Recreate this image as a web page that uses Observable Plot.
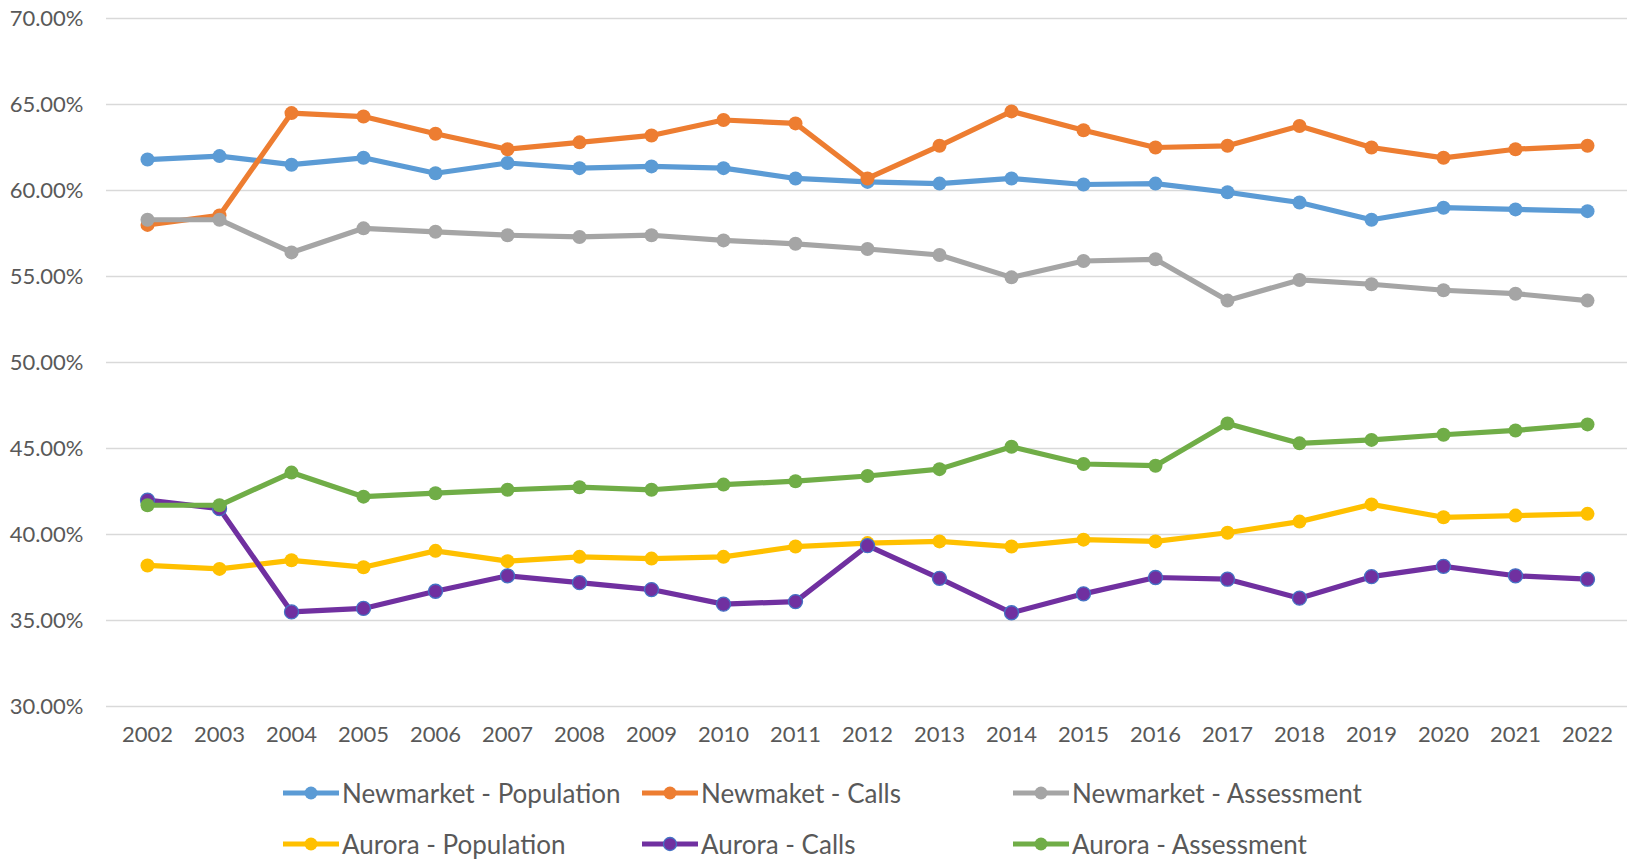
<!DOCTYPE html>
<html>
<head>
<meta charset="utf-8">
<script src="https://cdn.jsdelivr.net/npm/d3@7"></script>
<script src="https://cdn.jsdelivr.net/npm/@observablehq/plot@0.6"></script>
<style>
  html, body { margin: 0; padding: 0; background: #fff; overflow: hidden; }
  #wrap { width: 1629px; height: 859px; font-family: Lato, "Open Sans", sans-serif; color: #595959; }
  #legend { display: grid; grid-template-columns: 359px 371px auto; grid-auto-rows: 51px;
            padding-left: 283px; margin-top: 7px; font-size: 26px; }
  .item { display: flex; align-items: center; white-space: nowrap; }
  .item svg { margin-right: 3px; flex: none; }
</style>
</head>
<body>
<div id="wrap"><div id="chart"></div><div id="legend"></div></div>
<script>
const years = ["2002","2003","2004","2005","2006","2007","2008","2009","2010","2011","2012","2013","2014","2015","2016","2017","2018","2019","2020","2021","2022"];
const yTicks = [30, 35, 40, 45, 50, 55, 60, 65, 70];

const seriesNames = ["Newmarket - Population", "Newmaket - Calls", "Newmarket - Assessment",
                     "Aurora - Population", "Aurora - Calls", "Aurora - Assessment"];
const seriesColors = ["#5B9BD5", "#ED7D31", "#A5A5A5", "#FFC000", "#7030A0", "#70AD47"];
const markerStrokes = ["none", "none", "none", "none", "#4472C4", "none"];

const newmarketPopulation = [61.8, 62.0, 61.5, 61.9, 61.0, 61.6, 61.3, 61.4, 61.3, 60.7, 60.5, 60.4, 60.7, 60.35, 60.4, 59.9, 59.3, 58.3, 59.0, 58.9, 58.8];
const newmarketCalls      = [58.0, 58.55, 64.5, 64.3, 63.3, 62.4, 62.8, 63.2, 64.1, 63.9, 60.7, 62.6, 64.6, 63.5, 62.5, 62.6, 63.75, 62.5, 61.9, 62.4, 62.6];
const newmarketAssessment = [58.3, 58.3, 56.4, 57.8, 57.6, 57.4, 57.3, 57.4, 57.1, 56.9, 56.6, 56.25, 54.95, 55.9, 56.0, 53.6, 54.8, 54.55, 54.2, 54.0, 53.6];
const auroraPopulation    = [38.2, 38.0, 38.5, 38.1, 39.05, 38.45, 38.7, 38.6, 38.7, 39.3, 39.5, 39.6, 39.3, 39.7, 39.6, 40.1, 40.75, 41.75, 41.0, 41.1, 41.2];
const auroraCalls         = [42.0, 41.5, 35.5, 35.7, 36.7, 37.6, 37.2, 36.8, 35.95, 36.1, 39.35, 37.45, 35.45, 36.55, 37.5, 37.4, 36.3, 37.55, 38.15, 37.6, 37.4];
const auroraAssessment    = [41.7, 41.7, 43.6, 42.2, 42.4, 42.6, 42.75, 42.6, 42.9, 43.1, 43.4, 43.8, 45.1, 44.1, 44.0, 46.45, 45.3, 45.5, 45.8, 46.05, 46.4];

const seriesValues = [newmarketPopulation, newmarketCalls, newmarketAssessment, auroraPopulation, auroraCalls, auroraAssessment];

const data = seriesNames.flatMap((name, i) =>
  years.map((year, j) => ({series: name, year, value: seriesValues[i][j]})));

const marks = [
  Plot.ruleY(yTicks, {stroke: "#d9d9d9", strokeWidth: 1.5}),
  Plot.axisY({ticks: yTicks, tickSize: 0, tickPadding: 23, label: null,
              tickFormat: d => d.toFixed(2) + "%", fontSize: 22}),
  Plot.axisX({tickSize: 0, tickPadding: 20, label: null, fontSize: 22})
];
seriesNames.forEach((name, i) => {
  const rows = data.filter(d => d.series === name);
  marks.push(Plot.line(rows, {x: "year", y: "value", stroke: seriesColors[i], strokeWidth: 5.2}));
  marks.push(Plot.dot(rows, {x: "year", y: "value", fill: seriesColors[i], r: 7,
                             stroke: markerStrokes[i], strokeWidth: 1.3}));
});

const chart = Plot.plot({
  width: 1629,
  height: 760,
  marginLeft: 106,
  marginRight: 2,
  marginTop: 18,
  marginBottom: 54,
  style: {fontFamily: "Lato, 'Open Sans', sans-serif", color: "#595959", background: "#fff", overflow: "visible"},
  x: {type: "point", domain: years, padding: 0.5},
  y: {domain: [30, 70]},
  marks
});
document.getElementById("chart").appendChild(chart);

const legend = d3.select("#legend");
seriesNames.forEach((name, i) => {
  const item = legend.append("div").attr("class", "item");
  const svg = item.append("svg").attr("width", 56).attr("height", 20);
  svg.append("line").attr("x1", 0).attr("x2", 56).attr("y1", 10).attr("y2", 10)
     .attr("stroke", seriesColors[i]).attr("stroke-width", 5.2);
  svg.append("circle").attr("cx", 28).attr("cy", 10).attr("r", 6.5)
     .attr("fill", seriesColors[i])
     .attr("stroke", markerStrokes[i]).attr("stroke-width", 1.3);
  item.append("span").text(name);
});
</script>
</body>
</html>
